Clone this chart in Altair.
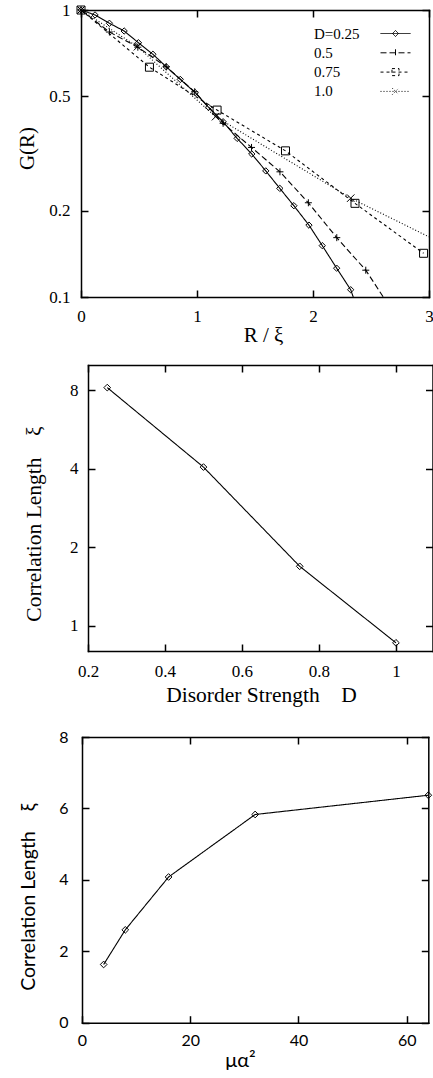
import altair as alt
import pandas as pd

SERIF = "Liberation Serif"
SANS = "Lato"
TICK = 7
W, H = 433, 1078
NB = "\u00a0"

# ---------------- Panel 1 data: G(R) versus R/xi (marker positions) ----------------
d_levels = ["0.25", "0.5", "0.75", "1.0"]
r_025 = [0.0, 0.121, 0.245, 0.372, 0.495, 0.620, 0.735, 0.856, 0.985, 1.100, 1.225,
         1.346, 1.472, 1.593, 1.714, 1.835, 1.965, 2.080, 2.204, 2.325]
g_025 = [1.0, 0.961, 0.899, 0.845, 0.769, 0.701, 0.634, 0.573, 0.515, 0.458, 0.408,
         0.357, 0.315, 0.275, 0.239, 0.208, 0.178, 0.151, 0.126, 0.106]
r_05 = [0.0, 0.245, 0.490, 0.735, 0.980, 1.225, 1.470, 1.715, 1.960, 2.205, 2.455]
g_05 = [1.0, 0.838, 0.742, 0.634, 0.519, 0.403, 0.332, 0.273, 0.213, 0.161, 0.124]
r_075 = [0.0, 0.590, 1.173, 1.763, 2.362, 2.953]
g_075 = [1.0, 0.632, 0.448, 0.323, 0.212, 0.142]
r_10 = [0.0, 0.487, 1.160, 2.325]
g_10 = [1.0, 0.745, 0.425, 0.221]
# where each curve leaves the frame
exit_025 = (2.347, 0.1)
exit_05 = (2.606, 0.1)
exit_10 = (3.0, 0.162)

# ---------------- Panel 2 data: xi versus D ----------------
d_strength = [0.25, 0.5, 0.75, 1.0]
xi_d = [8.19, 4.06, 1.69, 0.86]

# ---------------- Panel 3 data: xi versus mu a^2 ----------------
mu_a2 = [4, 8, 16, 32, 64]
xi_mu = [1.63, 2.60, 4.08, 5.83, 6.37]

# tick values
p1_xticks = [0, 1, 2, 3]
p1_yticks = [0.1, 0.2, 0.5, 1]
p2_xticks = [0.2, 0.4, 0.6, 0.8, 1.0]
p2_yticks = [1, 2, 4, 8]
p3_xticks = [0, 20, 40, 60]
p3_yticks = [0, 2, 4, 6, 8]

dash_range = [[1, 0], [6, 3], [3, 3], [1, 2]]
# legend sample glyphs drawn to the right of the (left-aligned) labels:
# a short line sample with the series marker in its middle
SAMPLE = "M9.375,0H13.125"
legend_paths = [
    SAMPLE + "M10.875,0L11.25,-0.375L11.625,0L11.25,0.375Z",
    SAMPLE + "M11.25,-0.44V0.44",
    SAMPLE + "M10.81,-0.44H11.69V0.44H10.81Z",
    SAMPLE + "M10.85,-0.4L11.65,0.4M10.85,0.4L11.65,-0.4",
]
PLUS = "M-1,0H1M0,-1V1"
XMARK = "M-1,-1L1,1M-1,1L1,-1"

# legend labels padded on the left so that their right edges line up
legend_label_expr = (
    "datum.label == '0.25' ? 'D=0.25' : "
    "datum.label == '0.75' ? '" + NB * 5 + "' + datum.label : "
    "'" + NB * 7 + "' + datum.label"
)


def curve(rs, gs, end=None):
    rows = [{"R": r, "G": g} for r, g in zip(rs, gs)]
    if end is not None:
        rows.append({"R": end[0], "G": end[1]})
    return pd.DataFrame(rows)


def marks(rs, gs):
    return pd.DataFrame({"R": rs, "G": gs})


def ax(orient, off, values=None, domain=False, ticks=False, labels=False, fmt=None,
       font=None, lsize=None, lpad=None, lbase=None, title=None, tsize=None, tx=None, ty=None):
    kw = dict(orient=orient, offset=off, grid=False, domain=domain, domainColor="black",
              domainWidth=1.5, domainCap="square", ticks=ticks,
              tickSize=TICK if ticks else 0, tickColor="black", tickWidth=1.5,
              labels=labels, title=title)
    if values is not None:
        kw["values"] = values
    if labels:
        kw.update(format=fmt, labelFont=font, labelFontSize=lsize, labelPadding=lpad,
                  labelColor="black", labelFlush=False, labelOverlap=False)
        if lbase:
            kw["labelBaseline"] = lbase
    if title is not None:
        kw.update(titleFont=font, titleFontSize=tsize, titleFontWeight="normal",
                  titleColor="black", titleBaseline="alphabetic", titleAlign="center",
                  titleX=tx, titleY=ty)
        if orient == "left":
            kw["titleAngle"] = 270
    return alt.Axis(**kw)


def sc(domain, rng, typ="linear"):
    return alt.Scale(type=typ, domain=domain, range=rng, nice=False, zero=False)


def line_layer(df, xf, yf, xsc, ysc, xaxis=None, yaxis=None, dash=(1, 0)):
    return alt.Chart(df).mark_line(color="black", strokeWidth=1.1, strokeDash=list(dash)).encode(
        x=alt.X(xf, scale=xsc, axis=xaxis), y=alt.Y(yf, scale=ysc, axis=yaxis))


def point_layer(df, xf, yf, xsc, ysc, shape, size, xaxis=None, yaxis=None, opacity=1):
    return alt.Chart(df).mark_point(shape=shape, size=size, filled=False, color="black",
                                    strokeWidth=1, opacity=opacity).encode(
        x=alt.X(xf, scale=xsc, axis=xaxis), y=alt.Y(yf, scale=ysc, axis=yaxis))


# ---------------- Panel 1 (plot box x 81..429, y 10..297) ----------------
x1 = sc([0, 3], [81, 429])
y1 = sc([0.1, 1], [297, 10], "log")
ax1 = {
    "xbA": ax("bottom", 297 - H, p1_xticks, domain=True, labels=True, fmt="d", font=SERIF,
              lsize=17, lpad=24.7, lbase="alphabetic", title="R / ξ", tsize=21, tx=263, ty=44),
    "xbB": ax("bottom", 290 - H, p1_xticks, ticks=True),
    "xtA": ax("top", -10, domain=True),
    "xtB": ax("top", -17, p1_xticks, ticks=True),
    "ylA": ax("left", -81, p1_yticks, domain=True, labels=True, fmt="~g", font=SERIF,
              lsize=17, lpad=11, title="G(R)", tsize=21, tx=-48, ty=148),
    "ylB": ax("left", -88, p1_yticks, ticks=True),
    "yrA": ax("right", 429 - W, domain=True),
    "yrB": ax("right", 422 - W, p1_yticks, ticks=True),
}
leg = alt.Legend(title=None, orient="none", legendX=297, legendY=25, padding=0,
                 symbolSize=256, symbolStrokeWidth=1, rowPadding=2.3,
                 labelAlign="left", labelOffset=0, labelFont=SERIF,
                 labelFontSize=15, labelColor="black", labelLimit=200,
                 labelExpr=legend_label_expr)
legend_df = pd.DataFrame({"D": d_levels})
legend_layer = alt.Chart(legend_df).transform_filter("false").mark_point(
    filled=False, color="black", strokeWidth=1, opacity=1).encode(
    shape=alt.Shape("D:N", scale=alt.Scale(domain=d_levels, range=legend_paths), legend=leg),
    strokeDash=alt.StrokeDash("D:N", scale=alt.Scale(domain=d_levels, range=dash_range),
                              legend=leg),
)

p1_layers = [
    line_layer(curve(r_025, g_025, exit_025), "R:Q", "G:Q", x1, y1, ax1["xbA"], ax1["ylA"],
               dash_range[0]),
    line_layer(curve(r_05, g_05, exit_05), "R:Q", "G:Q", x1, y1, ax1["xbB"], ax1["ylB"],
               dash_range[1]),
    line_layer(curve(r_075, g_075), "R:Q", "G:Q", x1, y1, ax1["xtA"], ax1["yrA"],
               dash_range[2]),
    line_layer(curve(r_10, g_10, exit_10), "R:Q", "G:Q", x1, y1, ax1["xtB"], ax1["yrB"],
               dash_range[3]),
    point_layer(marks(r_025, g_025), "R:Q", "G:Q", x1, y1, "diamond", 40),
    point_layer(marks(r_05, g_05), "R:Q", "G:Q", x1, y1, PLUS, 49),
    point_layer(marks(r_075, g_075), "R:Q", "G:Q", x1, y1, "square", 64),
    point_layer(marks(r_10, g_10), "R:Q", "G:Q", x1, y1, XMARK, 56),
    legend_layer,
]

# ---------------- Panel 2 (plot box x 88..432.5, y 365..651) ----------------
df2 = pd.DataFrame({"D": d_strength, "xi": xi_d})
x2 = sc([0.2, 1.095], [88, 432.5])
y2 = sc([0.8, 10], [651, 365], "log")
ax2 = {
    "xbA": ax("bottom", 651 - H, p2_xticks, domain=True, labels=True, fmt="~g", font=SERIF,
              lsize=17, lpad=25.7, lbase="alphabetic",
              title="Disorder Strength" + NB * 4 + "D", tsize=21.5, tx=261, ty=50.7),
    "xbB": ax("bottom", 644 - H, p2_xticks, ticks=True),
    "xtA": ax("top", -365, domain=True),
    "xtB": ax("top", -372, p2_xticks, ticks=True),
    "ylA": ax("left", -88, p2_yticks, domain=True, labels=True, fmt="d", font=SERIF,
              lsize=17, lpad=10, title="Correlation Length" + NB * 4 + "ξ", tsize=21.5,
              tx=-48, ty=523.5),
    "ylB": ax("left", -95, p2_yticks, ticks=True),
    "yrA": ax("right", 432.5 - W, domain=True),
    "yrB": ax("right", 425.5 - W, p2_yticks, ticks=True),
}
p2_layers = [
    line_layer(df2, "D:Q", "xi:Q", x2, y2, ax2["xbA"], ax2["ylA"]),
    point_layer(df2, "D:Q", "xi:Q", x2, y2, "diamond", 45, ax2["xbB"], ax2["ylB"]),
    point_layer(df2, "D:Q", "xi:Q", x2, y2, "diamond", 45, ax2["xtA"], ax2["yrA"], opacity=0),
    point_layer(df2, "D:Q", "xi:Q", x2, y2, "diamond", 45, ax2["xtB"], ax2["yrB"], opacity=0),
]

# ---------------- Panel 3 (plot box x 82..428.3, y 737..1022.7) ----------------
df3 = pd.DataFrame({"mu": mu_a2, "xi": xi_mu})
x3 = sc([0, 64], [82, 428.3])
y3 = sc([0, 8], [1022.7, 737])
ax3 = {
    "xbA": ax("bottom", 1022.7 - H, p3_xticks, domain=True, labels=True, fmt="d", font=SANS,
              lsize=16, lpad=22.3, lbase="alphabetic", title="μα²", tsize=20, tx=240, ty=44),
    "xbB": ax("bottom", 1015.7 - H, p3_xticks, ticks=True),
    "xtA": ax("top", -737, domain=True),
    "xtB": ax("top", -744, p3_xticks, ticks=True),
    "ylA": ax("left", -82, p3_yticks, domain=True, labels=True, fmt="d", font=SANS,
              lsize=16, lpad=14, title="Correlation Length" + NB * 4 + "ξ", tsize=19.5,
              tx=-47.7, ty=896.7),
    "ylB": ax("left", -89, p3_yticks, ticks=True),
    "yrA": ax("right", 428.3 - W, domain=True),
    "yrB": ax("right", 421.3 - W, p3_yticks, ticks=True),
}
p3_layers = [
    line_layer(df3, "mu:Q", "xi:Q", x3, y3, ax3["xbA"], ax3["ylA"]),
    point_layer(df3, "mu:Q", "xi:Q", x3, y3, "diamond", 45, ax3["xbB"], ax3["ylB"]),
    point_layer(df3, "mu:Q", "xi:Q", x3, y3, "diamond", 45, ax3["xtA"], ax3["yrA"], opacity=0),
    point_layer(df3, "mu:Q", "xi:Q", x3, y3, "diamond", 45, ax3["xtB"], ax3["yrB"], opacity=0),
]

chart = alt.layer(*(p1_layers + p2_layers + p3_layers)).resolve_scale(
    x="independent", y="independent"
).resolve_axis(x="independent", y="independent").properties(
    width=W, height=H, padding=0, autosize=alt.AutoSizeParams(type="none")
).configure(background="white").configure_view(stroke="transparent")

chart.save("out.html", embed_options={"renderer": "svg", "actions": False})
